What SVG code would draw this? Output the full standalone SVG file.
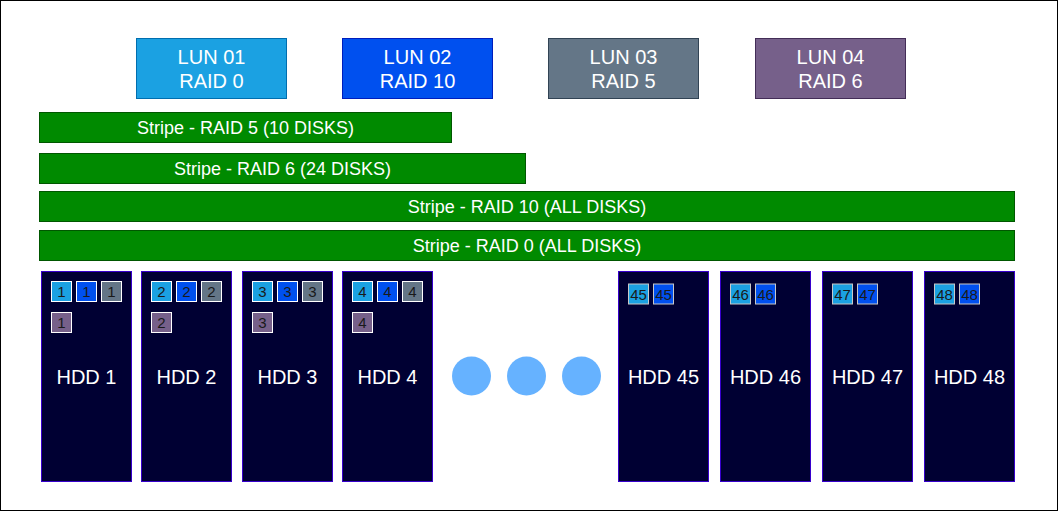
<svg xmlns="http://www.w3.org/2000/svg" width="1059" height="512" viewBox="0 0 1059 512">
<style>
text{font-family:"Liberation Sans",Arial,sans-serif;text-anchor:middle;}
.lun{stroke-width:1;}
.lt{fill:#ffffff;font-size:20px;}
.stripe{fill:#008a00;stroke:#005700;stroke-width:1;}
.st{fill:#ffffff;font-size:18px;}
.hdd{fill:#000033;stroke:#3700cc;stroke-width:1;}
.ht{fill:#ffffff;font-size:20px;}
.sq{stroke:#ffffff;stroke-width:1;}
.sq2{stroke:#c8c8c8;stroke-width:1;}
.qt{fill:#1a1a1a;font-size:15px;}
.c0{fill:#1ba1e2;}
.c1{fill:#0050ef;}
.c2{fill:#647687;}
.c3{fill:#76608a;}
.dot{fill:#66b2ff;}
</style>
<rect x="0.5" y="0.5" width="1057" height="510" fill="#ffffff" stroke="#000000" stroke-width="1"/>
<g id="connectors"/>
<g id="lun01"><rect class="lun c0" x="136.5" y="38.5" width="150" height="60" stroke="#006eaf"/><text class="lt" x="211.5" y="64">LUN 01</text><text class="lt" x="211.5" y="88">RAID 0</text></g>
<g id="lun02"><rect class="lun c1" x="342.5" y="38.5" width="150" height="60" stroke="#001dbc"/><text class="lt" x="417.5" y="64">LUN 02</text><text class="lt" x="417.5" y="88">RAID 10</text></g>
<g id="lun03"><rect class="lun c2" x="548.5" y="38.5" width="150" height="60" stroke="#314354"/><text class="lt" x="623.5" y="64">LUN 03</text><text class="lt" x="623.5" y="88">RAID 5</text></g>
<g id="lun04"><rect class="lun c3" x="755.5" y="38.5" width="150" height="60" stroke="#432d57"/><text class="lt" x="830.5" y="64">LUN 04</text><text class="lt" x="830.5" y="88">RAID 6</text></g>
<g id="stripe-raid5"><rect class="stripe" x="39.5" y="112.5" width="412" height="30"/><text class="st" x="245.5" y="133.5">Stripe - RAID 5 (10 DISKS)</text></g>
<g id="stripe-raid6"><rect class="stripe" x="39.5" y="153.5" width="486" height="30"/><text class="st" x="282.5" y="174.5">Stripe - RAID 6 (24 DISKS)</text></g>
<g id="stripe-raid10"><rect class="stripe" x="39.5" y="191.5" width="975" height="30"/><text class="st" x="527" y="212.5">Stripe - RAID 10 (ALL DISKS)</text></g>
<g id="stripe-raid0"><rect class="stripe" x="39.5" y="230.5" width="975" height="30"/><text class="st" x="527" y="251.5">Stripe - RAID 0 (ALL DISKS)</text></g>
<g id="hdd1"><rect class="hdd" x="41.5" y="271.5" width="90" height="210"/>
<rect class="sq c0" x="51.5" y="281.5" width="20" height="20"/><text class="qt" x="61.5" y="297">1</text>
<rect class="sq c1" x="76.5" y="281.5" width="20" height="20"/><text class="qt" x="86.5" y="297">1</text>
<rect class="sq c2" x="101.5" y="281.5" width="20" height="20"/><text class="qt" x="111.5" y="297">1</text>
<rect class="sq c3" x="51.5" y="312.5" width="20" height="20"/><text class="qt" x="61.5" y="328">1</text>
<text class="ht" x="86.5" y="384">HDD 1</text></g>
<g id="hdd2"><rect class="hdd" x="141.5" y="271.5" width="90" height="210"/>
<rect class="sq c0" x="151.5" y="281.5" width="20" height="20"/><text class="qt" x="161.5" y="297">2</text>
<rect class="sq c1" x="176.5" y="281.5" width="20" height="20"/><text class="qt" x="186.5" y="297">2</text>
<rect class="sq c2" x="201.5" y="281.5" width="20" height="20"/><text class="qt" x="211.5" y="297">2</text>
<rect class="sq c3" x="151.5" y="312.5" width="20" height="20"/><text class="qt" x="161.5" y="328">2</text>
<text class="ht" x="186.5" y="384">HDD 2</text></g>
<g id="hdd3"><rect class="hdd" x="242.5" y="271.5" width="90" height="210"/>
<rect class="sq c0" x="252.5" y="281.5" width="20" height="20"/><text class="qt" x="262.5" y="297">3</text>
<rect class="sq c1" x="277.5" y="281.5" width="20" height="20"/><text class="qt" x="287.5" y="297">3</text>
<rect class="sq c2" x="302.5" y="281.5" width="20" height="20"/><text class="qt" x="312.5" y="297">3</text>
<rect class="sq c3" x="252.5" y="312.5" width="20" height="20"/><text class="qt" x="262.5" y="328">3</text>
<text class="ht" x="287.5" y="384">HDD 3</text></g>
<g id="hdd4"><rect class="hdd" x="342.5" y="271.5" width="90" height="210"/>
<rect class="sq c0" x="352.5" y="281.5" width="20" height="20"/><text class="qt" x="362.5" y="297">4</text>
<rect class="sq c1" x="377.5" y="281.5" width="20" height="20"/><text class="qt" x="387.5" y="297">4</text>
<rect class="sq c2" x="402.5" y="281.5" width="20" height="20"/><text class="qt" x="412.5" y="297">4</text>
<rect class="sq c3" x="352.5" y="312.5" width="20" height="20"/><text class="qt" x="362.5" y="328">4</text>
<text class="ht" x="387.5" y="384">HDD 4</text></g>
<g id="ellipsis"><circle class="dot" cx="471.5" cy="376" r="19.5"/><circle class="dot" cx="526.5" cy="376" r="19.5"/><circle class="dot" cx="581.5" cy="376" r="19.5"/></g>
<g id="hdd45"><rect class="hdd" x="618.5" y="271.5" width="90" height="210"/>
<rect class="sq2 c0" x="628.5" y="284" width="20" height="20"/><text class="qt" x="638.5" y="299.5">45</text>
<rect class="sq2 c1" x="653.5" y="284" width="20" height="20"/><text class="qt" x="663.5" y="299.5">45</text>
<text class="ht" x="663.5" y="384">HDD 45</text></g>
<g id="hdd46"><rect class="hdd" x="720.5" y="271.5" width="90" height="210"/>
<rect class="sq2 c0" x="730.5" y="284" width="20" height="20"/><text class="qt" x="740.5" y="299.5">46</text>
<rect class="sq2 c1" x="755.5" y="284" width="20" height="20"/><text class="qt" x="765.5" y="299.5">46</text>
<text class="ht" x="765.5" y="384">HDD 46</text></g>
<g id="hdd47"><rect class="hdd" x="822.5" y="271.5" width="90" height="210"/>
<rect class="sq2 c0" x="832.5" y="284" width="20" height="20"/><text class="qt" x="842.5" y="299.5">47</text>
<rect class="sq2 c1" x="857.5" y="284" width="20" height="20"/><text class="qt" x="867.5" y="299.5">47</text>
<text class="ht" x="867.5" y="384">HDD 47</text></g>
<g id="hdd48"><rect class="hdd" x="924.5" y="271.5" width="90" height="210"/>
<rect class="sq2 c0" x="934.5" y="284" width="20" height="20"/><text class="qt" x="944.5" y="299.5">48</text>
<rect class="sq2 c1" x="959.5" y="284" width="20" height="20"/><text class="qt" x="969.5" y="299.5">48</text>
<text class="ht" x="969.5" y="384">HDD 48</text></g>
</svg>
